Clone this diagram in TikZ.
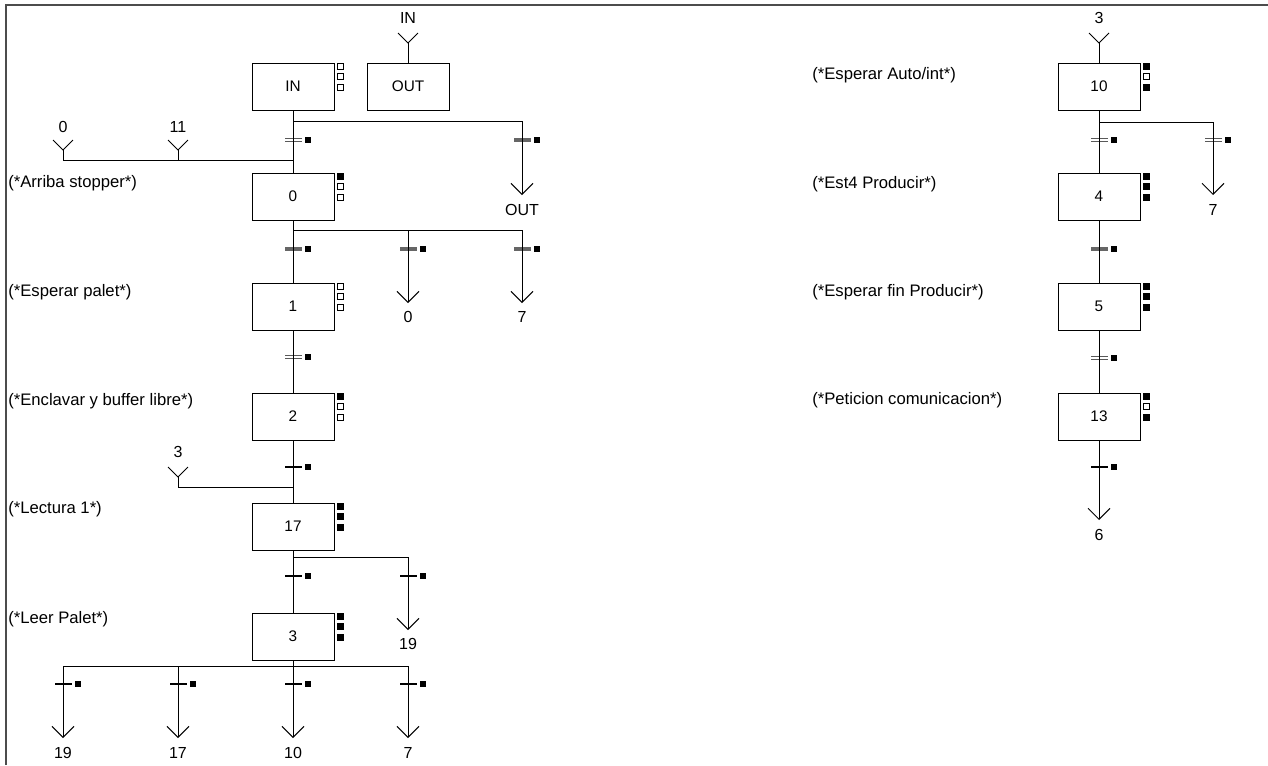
\documentclass[tikz,border=0pt]{standalone}
\usepackage{fontspec}
\setmainfont{Liberation Sans}
\usetikzlibrary{arrows.meta, positioning, calc}

\begin{document}
\begin{tikzpicture}[
    x=0.75pt, y=-0.75pt,
    node distance=46.5pt,
    font=\fontsize{11.5}{13}\selectfont,
    >={Straight Barb[length=8.25pt, width=16.5pt]},
    stepbox/.style={rectangle, draw=black, line width=0.75pt, fill=white, minimum width=61.5pt, minimum height=35.25pt, inner sep=0pt},
    flag/.style={rectangle, draw=black, line width=0.5pt, minimum size=4.5pt, inner sep=0pt},
    flagon/.style={flag, fill=black},
    flagoff/.style={flag, fill=white},
    trmark/.style={rectangle, fill=black, minimum size=4.5pt, inner sep=0pt},
    note/.style={anchor=west, inner sep=1.5pt, font=\fontsize{12.5}{14}\selectfont},
    conlabel/.style={inner sep=1pt, font=\fontsize{12}{14}\selectfont},
    wire/.style={draw, line width=0.75pt, black},
    trtwin/.style={draw=black!65, line width=0.85pt},
    trgray/.style={draw=black!60, line width=2.4pt},
    trblack/.style={draw=black, line width=1.5pt},
    frame/.style={draw=black!70, line width=1.1pt}
]
\useasboundingbox (0,0) rectangle (1268,765);
\draw[frame] (6,765) -- (6,5) -- (1268,5);

% Steps
\node[stepbox] (sIN) at (293,86.5) {IN};
\node[stepbox] (sOUT) at (408,86.5) {OUT};
\node[stepbox, below=of sIN] (s0) {0};
\node[stepbox, below=of s0] (s1) {1};
\node[stepbox, below=of s1] (s2) {2};
\node[stepbox, below=of s2] (s17) {17};
\node[stepbox, below=of s17] (s3) {3};

\node[stepbox] (s10) at (1099,86.5) {10};
\node[stepbox, below=of s10] (s4) {4};
\node[stepbox, below=of s4] (s5) {5};
\node[stepbox, below=of s5] (s13) {13};

% Step flags
\foreach \s/\a/\b/\c in {sIN/flagoff/flagoff/flagoff, s0/flagon/flagoff/flagoff,
    s1/flagoff/flagoff/flagoff, s2/flagon/flagoff/flagoff, s17/flagon/flagon/flagon,
    s3/flagon/flagon/flagon, s10/flagon/flagoff/flagon, s4/flagon/flagon/flagon,
    s5/flagon/flagon/flagon, s13/flagon/flagoff/flagon} {
  \node[\a] (\s-1) at ([shift={(4.5pt,-2.6pt)}]\s.north east) {};
  \node[\b] (\s-2) at ([shift={(4.5pt,-10.5pt)}]\s.north east) {};
  \node[\c] (\s-3) at ([shift={(4.5pt,-18.4pt)}]\s.north east) {};
}

% Comments
\node[note] (cs0) at (6,183) {(*Arriba stopper*)};
\node[note] (cs1) at (6,292) {(*Esperar palet*)};
\node[note] (cs2) at (6,401) {(*Enclavar y buffer libre*)};
\node[note] (cs17) at (6,509) {(*Lectura 1*)};
\node[note] (cs3) at (6,619) {(*Leer Palet*)};
\node[note] (cs10) at (810,75) {(*Esperar Auto/int*)};
\node[note] (cs4) at (810,184) {(*Est4 Producir*)};
\node[note] (cs5) at (810,292) {(*Esperar fin Producir*)};
\node[note] (cs13) at (810,400) {(*Peticion comunicacion*)};

% Jumps in
\coordinate (fIN) at (408,43);
\coordinate (f0) at (63,150);
\coordinate (f11) at (178,150);
\coordinate (f3) at (178,477);
\coordinate (f3r) at (1099,43);
\node[conlabel] (lfIN) at (408,18) {IN};
\node[conlabel] (lf0) at (63,127) {0};
\node[conlabel] (lf11) at (178,127) {11};
\node[conlabel] (lf3) at (178,452) {3};
\node[conlabel] (lf3r) at (1099,18) {3};

% Jumps out
\coordinate (aOUT) at (522,195);
\coordinate (a00) at (408,303);
\coordinate (a07) at (522,303);
\coordinate (a1719) at (408,630);
\coordinate (a107) at (1213,195);
\coordinate (a6) at (1099,520);
\node[conlabel] (laOUT) at (522,210) {OUT};
\node[conlabel] (la00) at (408,317) {0};
\node[conlabel] (la07) at (522,317) {7};
\node[conlabel] (la1719) at (408,644) {19};
\node[conlabel] (la107) at (1213,210) {7};
\node[conlabel] (la6) at (1099,535) {6};

% Branch lines
\coordinate (bIN) at (522,121);
\coordinate (mIN) at (293,160);
\coordinate (b0) at (522,230);
\coordinate (m17) at (293,487);
\coordinate (b17) at (408,557);
\coordinate (b3) at (408,666);
\coordinate (b10) at (1213,122);

% Transitions
\foreach \t/\x/\y/\st in {tOUT/522/140/trgray,
    t0/293/249/trgray, t00/408/249/trgray, t07/522/249/trgray,
    t2/293/467/trblack, t17/293/576/trblack,
    t1719/408/576/trblack, t319/63/684/trblack, t317/178/684/trblack,
    t310/293/684/trblack, t37/408/684/trblack,
    t4/1099/249/trgray, t13/1099/467/trblack} {
  \coordinate (\t) at (\x,\y);
  \draw[\st] ([xshift=-6pt]\t) -- ([xshift=6.75pt]\t);
  \node[trmark] (\t-m) at ([xshift=11.25pt]\t) {};
}
\foreach \t/\x/\y in {tIN/293/140, t1/293/357, t10/1099/140, t107/1213/140, t5/1099/358} {
  \coordinate (\t) at (\x,\y);
  \draw[trtwin] ([shift={(-6pt,0.95pt)}]\t) -- ([shift={(6.75pt,0.95pt)}]\t)
                ([shift={(-6pt,-0.95pt)}]\t) -- ([shift={(6.75pt,-0.95pt)}]\t);
  \node[trmark] (\t-m) at ([xshift=11.25pt]\t) {};
}

% Edges
\draw[wire] (sIN) -- (s0);
\draw[wire] (s0) -- (s1);
\draw[wire] (s1) -- (s2);
\draw[wire] (s2) -- (s17);
\draw[wire] (s17) -- (s3);
\draw[wire] (s10) -- (s4);
\draw[wire] (s4) -- (s5);
\draw[wire] (s5) -- (s13);
\draw[wire, ->] (s13) -- (a6);

\draw[wire] (fIN) -- (sOUT);
\draw[wire] (f3r) -- (s10);
\foreach \f in {fIN, f0, f11, f3, f3r}
  \draw[wire] ([shift={(-7.5pt,7.5pt)}]\f) -- (\f) -- ([shift={(7.5pt,7.5pt)}]\f);

\draw[wire] (f0) -- (f0 |- mIN) -- (mIN);
\draw[wire] (f11) -- (f11 |- mIN);
\draw[wire] (f3) -- (f3 |- m17) -- (m17);

\draw[wire, ->] (sIN.south |- bIN) -- (bIN) -- (aOUT);
\draw[wire, ->] (s0.south |- b0) -- (b0) -- (a07);
\draw[wire, ->] (a00 |- b0) -- (a00);
\draw[wire, ->] (s17.south |- b17) -- (b17) -- (a1719);
\draw[wire, ->] (s10.south |- b10) -- (b10) -- (a107);

% Final divergence
\draw[wire] (s3.south) -- (s3.south |- b3);
\draw[wire] (63,666) -- (b3);
\foreach \x/\lab in {63/19, 178/17, 293/10, 408/7} {
  \coordinate (a3-\lab) at (\x,738);
  \draw[wire, ->] (a3-\lab |- b3) -- (a3-\lab);
  \node[conlabel] (la3-\lab) at (\x,753) {\lab};
}

\end{tikzpicture}
\end{document}
